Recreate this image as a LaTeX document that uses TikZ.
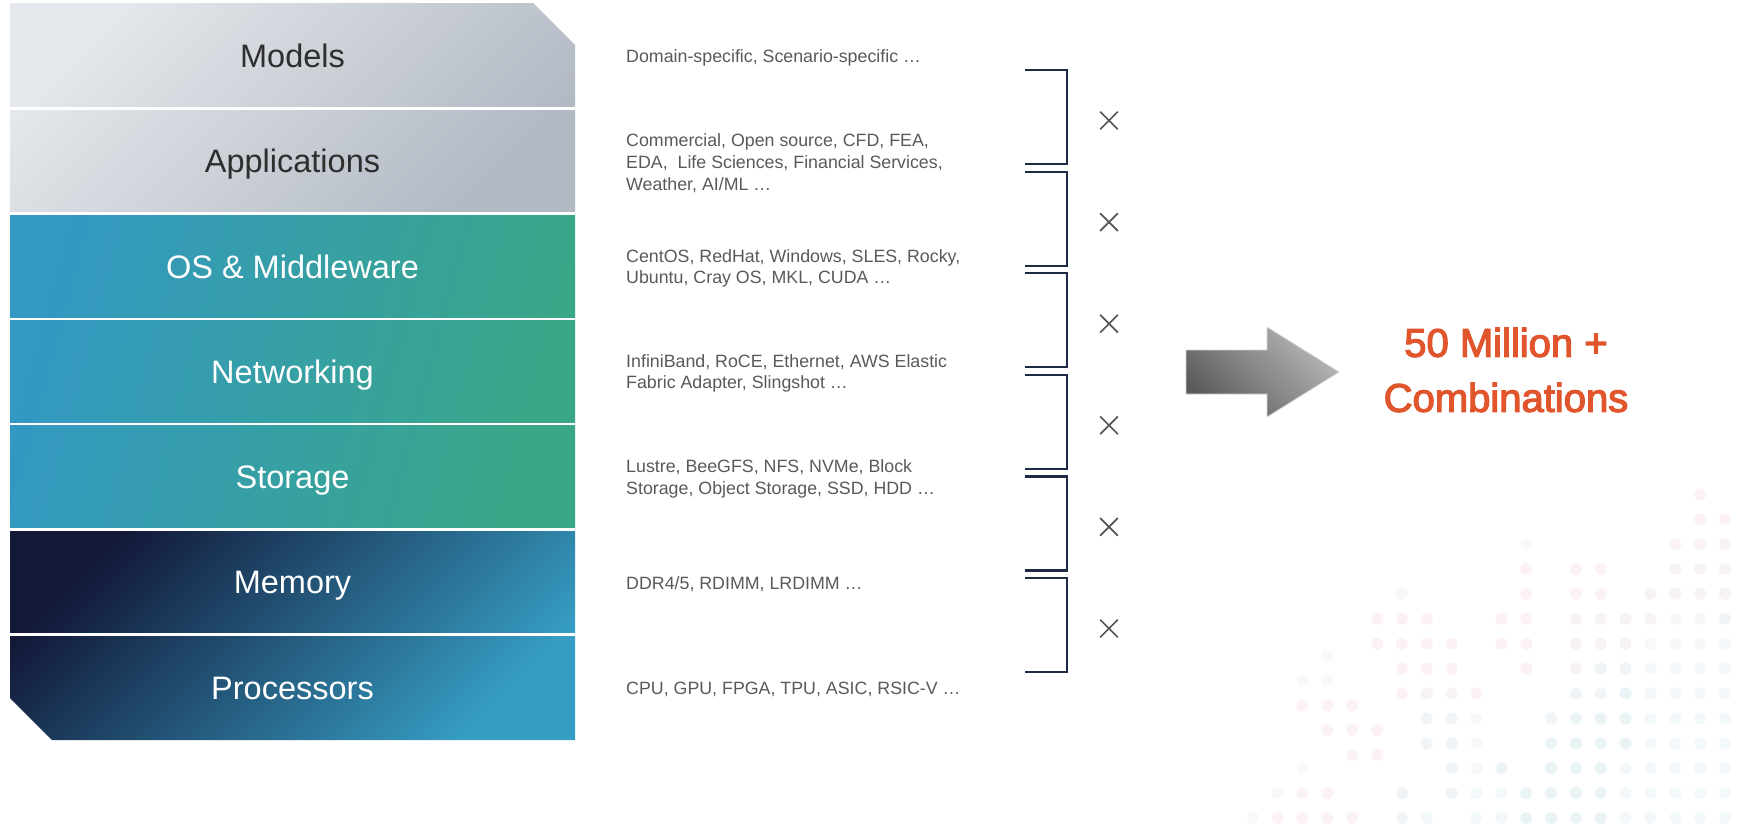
\documentclass[tikz,border=0pt]{standalone}
\usepackage{fontspec}
\setmainfont{Liberation Sans}
\newfontfamily\medfont{Liberation Sans}[FakeBold=3]
\usetikzlibrary{shapes.misc}

% stack colours
\definecolor{stackgrayA}{HTML}{E4E7EB}
\definecolor{stackgrayB}{HTML}{B2B9C3}
\definecolor{stackblue}{HTML}{3398C2}
\definecolor{stackgreen}{HTML}{3AA786}
\definecolor{stacknavy}{HTML}{131838}
\definecolor{stackcyan}{HTML}{369DC3}
% text and line colours
\definecolor{labelgray}{HTML}{2E2E2E}
\definecolor{descgray}{HTML}{595959}
\definecolor{bracketnavy}{HTML}{1D2A44}
\definecolor{crossgray}{HTML}{555555}
\definecolor{resultorange}{HTML}{E0552B}
\definecolor{arrowdark}{HTML}{5B5B5B}
\definecolor{arrowlight}{HTML}{B8B8B8}
\definecolor{arrowedge}{HTML}{D4D4D4}
% dot field colours
\definecolor{dotP}{HTML}{FCF1F3}
\definecolor{dotM}{HTML}{F7F2F5}
\definecolor{dotG}{HTML}{F1F4F7}
\definecolor{dotB}{HTML}{EAF3F6}
\definecolor{dotL}{HTML}{F3F8FA}
\definecolor{dotF}{HTML}{F9F8F9}

\tikzset{
  layerlabel/.style={font=\fontsize{32.5}{39}\selectfont, inner sep=0pt,
                     text height=23.4pt, text depth=0pt},
  darklabel/.style={layerlabel, text=labelgray},
  lightlabel/.style={layerlabel, text=white},
  desc/.style={anchor=west, align=left, font=\fontsize{17.8}{21.7}\selectfont,
               text=descgray, inner sep=0pt},
  sepline/.style={draw=white, line width=2.5pt},
  bracket/.style={draw=bracketnavy, line width=2.2pt},
  timesmark/.style={cross out, draw=crossgray, line width=1.7pt,
                    minimum size=16pt, inner sep=0pt},
  result/.style={align=center, font=\medfont\fontsize{40}{55}\selectfont,
                 text=resultorange, inner sep=0pt},
}

\begin{document}
\begin{tikzpicture}[x=1pt, y=-1pt]
\useasboundingbox (0,0) rectangle (1746,833);

% ---- faint dot field, lower right ----
\foreach \c/\r/\k in {
  1/13/P, 1/12/P, 0/12/P,
  8/11/F, 2/11/P, 1/11/P, 0/11/M,
  8/10/P, 6/10/P, 5/10/P, 2/10/M, 1/10/M, 0/10/M,
  8/9/P, 6/9/P, 5/9/P, 3/9/M, 2/9/M, 1/9/M, 0/9/M,
  9/8/P, 8/8/P, 6/8/M, 5/8/M, 4/8/M, 3/8/M, 2/8/F, 1/8/F, 0/8/G,
  9/7/P, 8/7/P, 6/7/M, 5/7/M, 4/7/M, 3/7/F, 2/7/F, 1/7/F, 0/7/L,
  8/6/P, 6/6/M, 5/6/G, 4/6/G, 3/6/L, 2/6/L, 1/6/L, 0/6/L,
  10/5/P, 6/5/G, 5/5/G, 4/5/B, 3/5/L, 2/5/L, 1/5/L, 0/5/L,
  10/4/F, 7/4/G, 6/4/B, 5/4/B, 4/4/B, 3/4/L, 2/4/L, 1/4/L, 0/4/L,
  10/3/F, 7/3/B, 6/3/B, 5/3/B, 4/3/B, 3/3/L, 2/3/L, 1/3/L, 0/3/L,
  10/2/F, 9/2/B, 7/2/B, 6/2/B, 5/2/B, 4/2/L, 3/2/L, 2/2/L, 1/2/L, 0/2/L,
  10/1/L, 9/1/L, 8/1/B, 7/1/B, 6/1/B, 5/1/B, 4/1/L, 3/1/L, 2/1/L, 1/1/L, 0/1/L,
  10/0/L, 9/0/L, 8/0/B, 7/0/B, 6/0/B, 5/0/B, 4/0/L, 3/0/L, 2/0/L, 1/0/L, 0/0/L,
  13/9/F, 14/8/P, 13/8/P, 12/8/P,
  14/7/P, 13/7/P, 12/7/P, 11/7/P,
  13/6/P, 12/6/P, 11/6/P,
  13/5/P, 12/5/M, 11/5/M,
  12/4/G, 11/4/G, 12/3/G, 11/3/G, 11/2/G,
  13/1/G, 11/1/G, 13/0/G, 12/0/L,
  17/2/F, 18/1/F, 17/1/P, 16/1/P,
  19/0/F, 18/0/P, 17/0/P, 16/0/P, 15/0/P}
  \fill[dot\k] (1725-24.85*\c, 818-24.9*\r) circle (6);
% staggered cluster
\foreach \c/\y/\k in {
  16/655.7/F, 17/680.5/F, 16/680.5/F,
  17/705.3/P, 16/705.3/P, 15/705.3/P,
  16/730/P, 15/730/P, 14/730/P,
  15/754.8/P, 14/754.8/P}
  \fill[dot\k] (1725-24.85*\c, \y) circle (6);

% ---- layered stack ----
\shade[top color=stackgrayA, bottom color=stackgrayB, shading angle=45]
  (10,3) -- (533,3) -- (575,45) -- (575,213.6) -- (10,213.6) -- cycle;
\shade[top color=stackblue, bottom color=stackgreen, shading angle=75]
  (10,213.6) rectangle (575,529.4);
\shade[top color=stacknavy, bottom color=stackcyan, shading angle=45]
  (10,529.4) -- (575,529.4) -- (575,740) -- (52,740) -- (10,698) -- cycle;
\foreach \y in {108.3,213.6,318.9,424.1,529.4,634.7}
  \draw[sepline] (10,\y) -- (575,\y);

\node[darklabel]  (models)  at (292.5,55.6)  {Models};
\node[darklabel]  (apps)    at (292.5,161.0) {Applications};
\node[lightlabel] (osmw)    at (292.5,266.3) {OS \& Middleware};
\node[lightlabel] (network) at (292.5,371.5) {Networking};
\node[lightlabel] (storage) at (292.5,476.8) {Storage};
\node[lightlabel] (memory)  at (292.5,582.0) {Memory};
\node[lightlabel] (procs)   at (292.5,687.4) {Processors};

% ---- descriptions ----
\node[desc] (dmodels)  at (626,57.6)  {Domain-specific, Scenario-specific …};
\node[desc] (dapps)    at (626,163.0) {Commercial, Open source, CFD, FEA,\\EDA,\ \ Life Sciences, Financial Services,\\Weather, AI/ML …};
\node[desc] (dosmw)    at (626,268.3) {CentOS, RedHat, Windows, SLES, Rocky,\\Ubuntu, Cray OS, MKL, CUDA …};
\node[desc] (dnetwork) at (626,373.5) {InfiniBand, RoCE, Ethernet, AWS Elastic\\Fabric Adapter, Slingshot …};
\node[desc] (dstorage) at (626,478.8) {Lustre, BeeGFS, NFS, NVMe, Block\\Storage, Object Storage, SSD, HDD …};
\node[desc] (dmemory)  at (626,584.0) {DDR4/5, RDIMM, LRDIMM …};
\node[desc] (dprocs)   at (626,689.4) {CPU, GPU, FPGA, TPU, ASIC, RSIC-V …};

% ---- brackets with multiplication marks ----
\foreach \k in {0,...,5}{
  \coordinate (bt\k) at (1025, 70+101.6*\k);
  \coordinate (bb\k) at (1025, 164+101.6*\k);
  \draw[bracket] (bt\k) -- ++(42,0) |- (bb\k);
  \node[timesmark] (times\k) at (1109, 120.5+101.6*\k) {};
}

% ---- block arrow and result ----
\shadedraw[top color=arrowlight, bottom color=arrowdark, shading angle=-45,
           draw=arrowedge, line width=0.8pt]
  (1186,350) -- (1267,350) -- (1267,327) -- (1339,372)
  -- (1267,417) -- (1267,394) -- (1186,394) -- cycle;
\node[result] (result) at (1506,370) {50 Million +\\Combinations};
\end{tikzpicture}
\end{document}
